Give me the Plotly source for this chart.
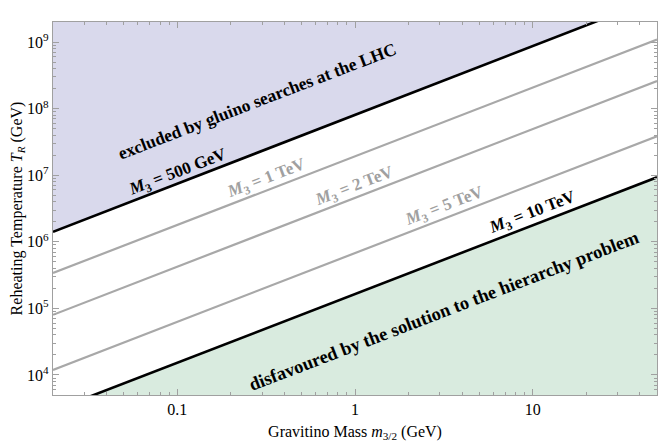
import numpy as np
import plotly.graph_objects as go

# gravitino mass range (GeV) and T_R (GeV) read at the two edges for each gluino mass
m32_edges = [0.02, 50]
M3_labels = ["500 GeV", "1 TeV", "2 TeV", "5 TeV", "10 TeV"]
TR_left = [1.41e6, 3.4e5, 8.0e4, 1.19e4, 2.9e3]
TR_right = [4.6e9, 1.09e9, 2.6e8, 3.85e7, 9.3e6]
line_colors = ["black", "#a8a8a8", "#a8a8a8", "#a8a8a8", "black"]

y_lo, y_hi = 5e3, 2e9
serif = "Liberation Serif, Times New Roman, serif"

fig = go.Figure()

# excluded region (above 500 GeV line)
fig.add_trace(go.Scatter(
    x=m32_edges + m32_edges[::-1],
    y=[TR_left[0], TR_right[0], 1e11, 1e11],
    fill="toself", fillcolor="#d9d9ec", line=dict(width=0),
    mode="lines", hoverinfo="skip", showlegend=False))

# disfavoured region (below 10 TeV line)
fig.add_trace(go.Scatter(
    x=m32_edges + m32_edges[::-1],
    y=[TR_left[-1], TR_right[-1], 1e2, 1e2],
    fill="toself", fillcolor="#d9ebdf", line=dict(width=0),
    mode="lines", hoverinfo="skip", showlegend=False))

for lab, a, b, c in zip(M3_labels, TR_left, TR_right, line_colors):
    fig.add_trace(go.Scatter(
        x=m32_edges, y=[a, b], mode="lines",
        line=dict(color=c, width=2.6 if c == "black" else 2.2),
        name=lab, showlegend=False))

# labels (log10 data coordinates)
ang = -21
label_pos = [(-0.998, 7.04), (-0.498, 6.95), (-0.004, 6.83), (0.502, 6.53), (1.002, 6.43)]
for lab, (lx, ly), c in zip(M3_labels, label_pos, line_colors):
    fig.add_annotation(
        x=lx, y=ly, text=f"<b><i>M</i><sub>3</sub> = {lab}</b>", showarrow=False,
        textangle=ang, font=dict(family=serif, size=17, color=("#a0a0a0" if c != "black" else "black")))

fig.add_annotation(x=-0.549, y=8.11, text="<b>excluded by gluino searches at the LHC</b>",
                   showarrow=False, textangle=ang, font=dict(family=serif, size=17.5, color="black"))
fig.add_annotation(x=0.50, y=4.96, text="<b>disfavoured by the solution to the hierarchy problem</b>",
                   showarrow=False, textangle=ang, font=dict(family=serif, size=18.5, color="black"))

def minor_vals(lo, hi):
    return [m * 10.0**k for k in range(lo, hi) for m in range(2, 10)]

frame = dict(showline=True, linecolor="#a0a0a0", linewidth=1.2, mirror="allticks",
             ticks="inside", ticklen=6, tickcolor="#a0a0a0", showgrid=False, zeroline=False,
             tickfont=dict(family=serif, size=16, color="black"))

fig.update_layout(
    width=661, height=445,
    margin=dict(l=53, r=4, t=22, b=50),
    plot_bgcolor="white", paper_bgcolor="white",
    xaxis=dict(type="log", range=[np.log10(m32_edges[0]), np.log10(m32_edges[1])],
               tickvals=[0.1, 1, 10], ticktext=["0.1", "1", "10"],
               minor=dict(ticks="inside", ticklen=3, tickcolor="#a0a0a0", tickvals=minor_vals(-2, 2)),
               title=dict(text="Gravitino Mass <i>m</i><sub>3/2</sub> (GeV)",
                          font=dict(family=serif, size=16, color="black"), standoff=8),
               **frame),
    yaxis=dict(type="log", range=[np.log10(y_lo), np.log10(y_hi)],
               tickvals=[10.0**k for k in range(4, 10)],
               ticktext=[f"10<sup>{k}</sup>" for k in range(4, 10)],
               minor=dict(ticks="inside", ticklen=3, tickcolor="#a0a0a0", tickvals=minor_vals(3, 10)),
               title=dict(text="Reheating Temperature <i>T<sub>R</sub></i> (GeV)",
                          font=dict(family=serif, size=16, color="black"), standoff=0),
               **frame),
)

fig.write_html("out.html", config={"displayModeBar": False},
               post_script="document.body.style.margin='0';")
